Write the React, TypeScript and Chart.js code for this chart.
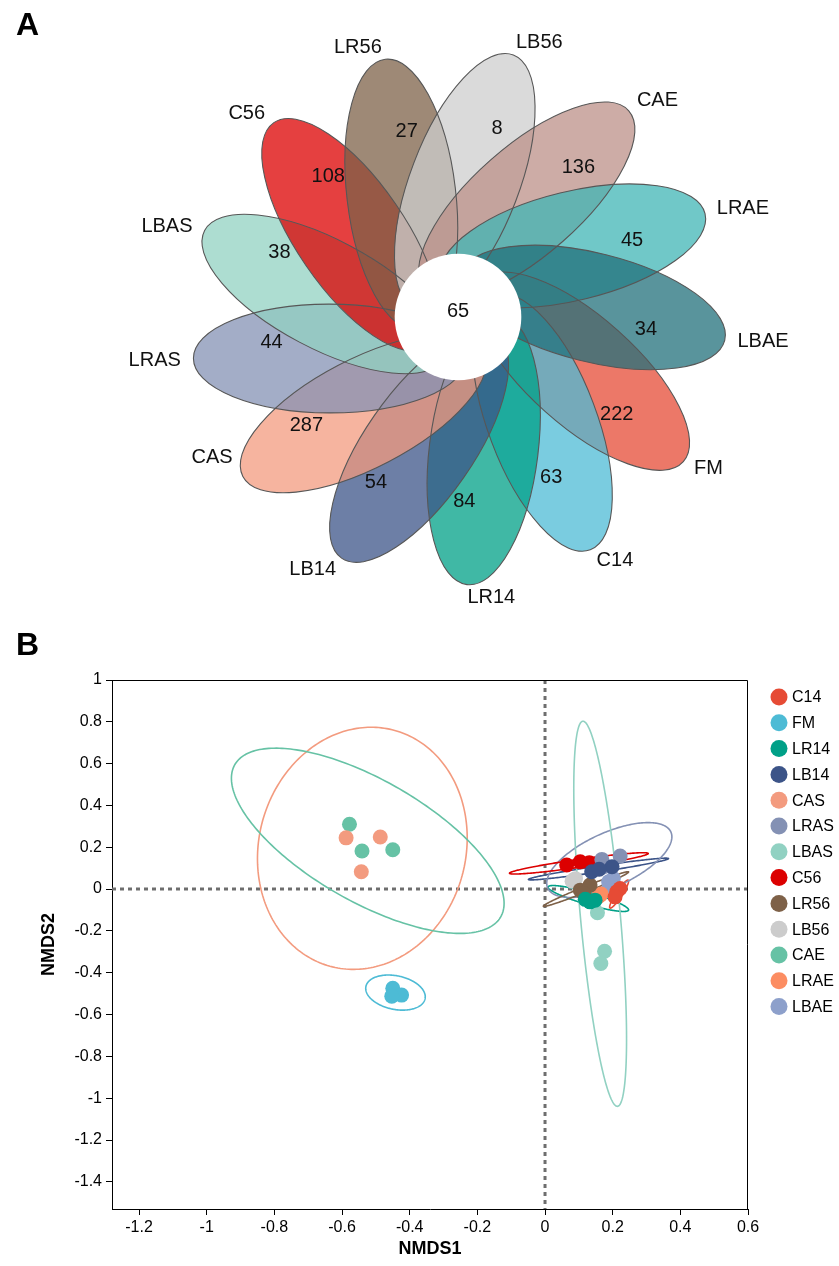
import React, { useEffect, useRef } from 'react';
import { Chart, registerables } from 'chart.js';

Chart.register(...registerables);

const FONT = 'Arial, "Liberation Sans", Helvetica, sans-serif';

// ---------------- Panel A : flower diagram data ----------------
const petalNames = ['FM', 'C14', 'LR14', 'LB14', 'CAS', 'LRAS', 'LBAS', 'C56', 'LR56', 'LB56', 'CAE', 'LRAE', 'LBAE'];
const petalValues = [222, 63, 84, 54, 287, 44, 38, 108, 27, 8, 136, 45, 34];
const coreValue = 65;
const petalColors = ['#E64B35', '#4DBBD5', '#00A087', '#3C5488', '#F39B7F', '#8491B4', '#91D1C2', '#DC0000', '#7E6148', '#CDCDCD', '#BC9088', '#40B6B6', '#22707B'];

// ---------------- Panel B : NMDS data ----------------
const groupNames = ['C14', 'FM', 'LR14', 'LB14', 'CAS', 'LRAS', 'LBAS', 'C56', 'LR56', 'LB56', 'CAE', 'LRAE', 'LBAE'];
const groupColors = ['#E64B35', '#4DBBD5', '#00A087', '#3C5488', '#F39B7F', '#8491B4', '#91D1C2', '#DC0000', '#7E6148', '#CCCCCC', '#66C2A5', '#FC8D62', '#8DA0CB'];

const C14_pts = [[0.212, -0.013], [0.222, 0.003], [0.207, -0.037]];
const FM_pts = [[-0.450, -0.474], [-0.424, -0.507], [-0.453, -0.512]];
const LR14_pts = [[0.119, -0.049], [0.148, -0.053], [0.133, -0.061]];
const LB14_pts = [[0.138, 0.083], [0.198, 0.107], [0.160, 0.095]];
const CAS_pts = [[-0.588, 0.245], [-0.487, 0.249], [-0.543, 0.083]];
const LRAS_pts = [[0.168, 0.142], [0.222, 0.158], [0.173, 0.107]];
const LBAS_pts = [[0.155, -0.113], [0.176, -0.297], [0.165, -0.356]];
const C56_pts = [[0.064, 0.115], [0.104, 0.131], [0.131, 0.126]];
const LR56_pts = [[0.104, -0.005], [0.133, 0.019], [0.114, -0.021]];
const LB56_pts = [[0.084, 0.043], [0.090, 0.050], [0.080, 0.038]];
const CAE_pts = [[-0.578, 0.310], [-0.541, 0.182], [-0.450, 0.188]];
const LRAE_pts = [[0.163, -0.029], [0.158, -0.035], [0.166, -0.024]];
const LBAE_pts = [[0.188, 0.035], [0.202, 0.051], [0.190, 0.015]];
const groupPoints = [C14_pts, FM_pts, LR14_pts, LB14_pts, CAS_pts, LRAS_pts, LBAS_pts, C56_pts, LR56_pts, LB56_pts, CAE_pts, LRAE_pts, LBAE_pts];

// confidence ellipses (centre, x / y half extents, correlation) per group; null = none drawn
const ellCX = [0.219, -0.442, 0.128, 0.158, -0.540, 0.190, 0.163, 0.100, 0.121, null, -0.524, null, null];
const ellCY = [-0.024, -0.495, -0.045, 0.096, 0.195, 0.139, -0.118, 0.123, 0.000, null, 0.231, null, null];
const ellSX = [0.028, 0.088, 0.119, 0.207, 0.310, 0.185, 0.078, 0.205, 0.126, null, 0.403, null, null];
const ellSY = [0.067, 0.084, 0.062, 0.052, 0.579, 0.179, 0.921, 0.051, 0.083, null, 0.443, null, null];
const ellRho = [0.924, -0.24, -0.874, 0.96, 0.085, 0.62, -0.65, 0.926, 0.985, null, -0.675, null, null];

const xTicks = [-1.2, -1, -0.8, -0.6, -0.4, -0.2, 0, 0.2, 0.4, 0.6];
const yTicks = [-1.4, -1.2, -1, -0.8, -0.6, -0.4, -0.2, 0, 0.2, 0.4, 0.6, 0.8, 1];

// ---------------- layout constants ----------------
const W = 839;
const A_H = 630;
const B_TOP = 630;
const B_H = 1266 - 630;

const UNIT = 85; // px per flower unit
const FLOWER_CX = 458;
const FLOWER_CY = 317;
const PETAL_START = 32.7; // deg, screen clockwise, direction of first petal tip
const PETAL_TIP_R = 3.15; // distance of petal tip from the centre
const PETAL_A = 1.6; // semi-major axis
const PETAL_B = 0.64; // semi-minor axis
const PETAL_SKEW = 9; // deg, tilt of the petal axis against the tip direction
const NUM_R = 2.22;
const NAME_R = 3.3;
const CORE_R = 0.745;
const NAME_DY = [0, 0, 0, 0, -26, 0, 0, 0, 0, 0, 0, 0, 0]; // px nudges of the outer names

function hexToRgba(hex: string, a: number) {
  const h = hex.replace('#', '');
  const r = parseInt(h.slice(0, 2), 16);
  const g = parseInt(h.slice(2, 4), 16);
  const b = parseInt(h.slice(4, 6), 16);
  return `rgba(${r},${g},${b},${a})`;
}

const flowerPlugin = {
  id: 'flowerPlugin',
  afterDraw(chart: any) {
    const { ctx } = chart;
    const xs = chart.scales.x;
    const ys = chart.scales.y;
    const px = (v: number) => xs.getPixelForValue(v);
    const py = (v: number) => ys.getPixelForValue(v);
    const ux = Math.abs(px(1) - px(0));
    const uy = Math.abs(py(1) - py(0));
    const n = petalNames.length;
    const step = 360 / n;
    ctx.save();
    const geo: any[] = [];
    for (let i = 0; i < n; i++) {
      const tip = ((PETAL_START + step * i) * Math.PI) / 180; // screen clockwise
      const psi = tip + (PETAL_SKEW * Math.PI) / 180;
      const tx = PETAL_TIP_R * Math.cos(tip);
      const ty = -PETAL_TIP_R * Math.sin(tip);
      const cx = tx - PETAL_A * Math.cos(psi);
      const cy = ty + PETAL_A * Math.sin(psi);
      geo.push({ tip, psi, X: px(cx), Y: py(cy) });
    }
    for (let i = 0; i < n; i++) {
      const g = geo[i];
      ctx.beginPath();
      ctx.ellipse(g.X, g.Y, PETAL_A * ux, PETAL_B * uy, g.psi, 0, Math.PI * 2);
      ctx.fillStyle = hexToRgba(petalColors[i], 0.75);
      ctx.fill();
    }
    ctx.strokeStyle = '#575757';
    ctx.lineWidth = 1.1;
    for (let i = 0; i < n; i++) {
      const g = geo[i];
      ctx.beginPath();
      ctx.ellipse(g.X, g.Y, PETAL_A * ux, PETAL_B * uy, g.psi, 0, Math.PI * 2);
      ctx.stroke();
    }
    ctx.beginPath();
    ctx.arc(px(0), py(0), CORE_R * ux, 0, Math.PI * 2);
    ctx.fillStyle = '#ffffff';
    ctx.fill();

    ctx.fillStyle = '#111';
    ctx.font = `20px ${FONT}`;
    ctx.textBaseline = 'middle';
    ctx.textAlign = 'center';
    ctx.fillText(String(coreValue), px(0), py(0) - 6);
    for (let i = 0; i < n; i++) {
      const r = geo[i].tip;
      const c = Math.cos(r);
      const s = -Math.sin(r);
      ctx.textAlign = 'center';
      ctx.fillText(String(petalValues[i]), px(NUM_R * c), py(NUM_R * s) - 4);
      ctx.textAlign = c >= 0 ? 'left' : 'right';
      ctx.fillText(petalNames[i], px(NAME_R * c), py(NAME_R * s) + NAME_DY[i]);
    }
    ctx.restore();
  },
};

function fmt(v: number) {
  const r = Math.round(v * 10) / 10;
  return String(r === 0 ? 0 : r);
}

const nmdsPlugin = {
  id: 'nmdsPlugin',
  beforeDatasetsDraw(chart: any) {
    const { ctx, chartArea } = chart;
    const xs = chart.scales.x;
    const ys = chart.scales.y;
    ctx.save();
    ctx.beginPath();
    ctx.rect(chartArea.left, chartArea.top, chartArea.right - chartArea.left, chartArea.bottom - chartArea.top);
    ctx.clip();
    ctx.strokeStyle = '#6e6e6e';
    ctx.lineWidth = 3;
    ctx.setLineDash([4, 4]);
    const x0 = xs.getPixelForValue(0);
    const y0 = ys.getPixelForValue(0);
    ctx.beginPath();
    ctx.moveTo(x0, chartArea.top);
    ctx.lineTo(x0, chartArea.bottom);
    ctx.moveTo(chartArea.left, y0);
    ctx.lineTo(chartArea.right, y0);
    ctx.stroke();
    ctx.setLineDash([]);
    ctx.lineWidth = 1.6;
    for (let g = 0; g < groupNames.length; g++) {
      const cx = ellCX[g];
      if (cx == null) continue;
      const cy = ellCY[g] as number;
      const sx = ellSX[g] as number;
      const sy = ellSY[g] as number;
      const rho = ellRho[g] as number;
      const k = Math.sqrt(1 - rho * rho);
      ctx.strokeStyle = groupColors[g];
      ctx.beginPath();
      const steps = 240;
      for (let s = 0; s <= steps; s++) {
        const t = (s / steps) * Math.PI * 2;
        const dx = cx + sx * Math.cos(t);
        const dy = cy + sy * (rho * Math.cos(t) + k * Math.sin(t));
        const X = xs.getPixelForValue(dx);
        const Y = ys.getPixelForValue(dy);
        if (s === 0) ctx.moveTo(X, Y);
        else ctx.lineTo(X, Y);
      }
      ctx.closePath();
      ctx.stroke();
    }
    ctx.restore();
  },
  afterDraw(chart: any) {
    const { ctx, chartArea } = chart;
    ctx.save();
    ctx.strokeStyle = '#000';
    ctx.lineWidth = 1;
    ctx.beginPath();
    ctx.moveTo(Math.round(chartArea.left) + 0.5, Math.round(chartArea.top) + 0.5);
    ctx.lineTo(Math.round(chartArea.right) - 0.5, Math.round(chartArea.top) + 0.5);
    ctx.lineTo(Math.round(chartArea.right) - 0.5, Math.round(chartArea.bottom));
    ctx.stroke();
    const lx = chartArea.right + 31;
    const ly = chartArea.top + 17;
    const stepY = 25.8;
    ctx.font = `16px ${FONT}`;
    ctx.textAlign = 'left';
    ctx.textBaseline = 'middle';
    chart.data.datasets.forEach((ds: any, i: number) => {
      ctx.beginPath();
      ctx.arc(lx, ly + i * stepY, 8.5, 0, Math.PI * 2);
      ctx.fillStyle = ds.backgroundColor;
      ctx.fill();
      ctx.fillStyle = '#000';
      ctx.fillText(ds.label, lx + 13, ly + i * stepY + 1);
    });
    ctx.restore();
  },
};

function FlowerPanel() {
  const ref = useRef<HTMLCanvasElement>(null);
  useEffect(() => {
    const xMin = -FLOWER_CX / UNIT;
    const xMax = (W - FLOWER_CX) / UNIT;
    const yMax = FLOWER_CY / UNIT;
    const yMin = -(A_H - FLOWER_CY) / UNIT;
    const chart = new Chart(ref.current as HTMLCanvasElement, {
      type: 'scatter',
      data: { datasets: [] },
      options: {
        responsive: false,
        animation: false,
        events: [],
        layout: { padding: 0 },
        plugins: { legend: { display: false }, tooltip: { enabled: false } },
        scales: {
          x: { type: 'linear', display: false, min: xMin, max: xMax },
          y: { type: 'linear', display: false, min: yMin, max: yMax },
        },
      },
      plugins: [flowerPlugin],
    } as any);
    return () => chart.destroy();
  }, []);
  return <canvas ref={ref} width={W} height={A_H} style={{ position: 'absolute', left: 0, top: 0, width: W, height: A_H }} />;
}

function NmdsPanel() {
  const ref = useRef<HTMLCanvasElement>(null);
  useEffect(() => {
    const datasets = groupNames.map((name, i) => ({
      label: name,
      data: groupPoints[i].map((p) => ({ x: p[0], y: p[1] })),
      backgroundColor: groupColors[i],
      borderColor: groupColors[i],
      borderWidth: 0,
      pointRadius: 7.5,
      pointHoverRadius: 7.5,
    }));
    const tickFont = { family: FONT, size: 16 };
    const titleFont = { family: FONT, size: 18, weight: 'bold' as const };
    const chart = new Chart(ref.current as HTMLCanvasElement, {
      type: 'scatter',
      data: { datasets },
      options: {
        responsive: false,
        animation: false,
        events: [],
        layout: { padding: { top: 50, right: 91, left: 0, bottom: 0 } },
        plugins: { legend: { display: false }, tooltip: { enabled: false } },
        scales: {
          x: {
            type: 'linear',
            min: -1.28,
            max: 0.6,
            afterBuildTicks: (s: any) => {
              s.ticks = xTicks.map((v) => ({ value: v }));
            },
            afterFit: (s: any) => {
              s.height = 57;
            },
            ticks: { color: '#000', font: tickFont, padding: 3, maxRotation: 0, autoSkip: false, callback: (v: any) => fmt(Number(v)) },
            grid: { display: true, drawOnChartArea: false, drawTicks: true, tickLength: 6, color: '#000', lineWidth: 1 },
            border: { display: true, color: '#000', width: 1 },
            title: { display: true, text: 'NMDS1', color: '#000', font: titleFont, padding: { top: 0, bottom: 6 } },
          },
          y: {
            type: 'linear',
            min: -1.53,
            max: 1,
            afterBuildTicks: (s: any) => {
              s.ticks = yTicks.map((v) => ({ value: v }));
            },
            afterFit: (s: any) => {
              s.width = 112;
            },
            ticks: { color: '#000', font: tickFont, padding: 4, autoSkip: false, callback: (v: any) => fmt(Number(v)) },
            grid: { display: true, drawOnChartArea: false, drawTicks: true, tickLength: 6, color: '#000', lineWidth: 1 },
            border: { display: true, color: '#000', width: 1 },
            title: { display: true, text: 'NMDS2', color: '#000', font: titleFont, padding: { top: 38, bottom: 0 } },
          },
        },
      },
      plugins: [nmdsPlugin],
    } as any);
    return () => chart.destroy();
  }, []);
  return <canvas ref={ref} width={W} height={B_H} style={{ position: 'absolute', left: 0, top: B_TOP, width: W, height: B_H }} />;
}

const panelLetter: React.CSSProperties = {
  position: 'absolute',
  left: 16,
  fontFamily: FONT,
  fontWeight: 'bold',
  fontSize: 32,
  lineHeight: '32px',
  color: '#000',
};

export default function App() {
  return (
    <div style={{ position: 'absolute', left: 0, top: 0, width: W, height: 1266, overflow: 'hidden', background: '#fff' }}>
      <FlowerPanel />
      <NmdsPanel />
      <div style={{ ...panelLetter, top: 8 }}>A</div>
      <div style={{ ...panelLetter, top: 628 }}>B</div>
    </div>
  );
}
